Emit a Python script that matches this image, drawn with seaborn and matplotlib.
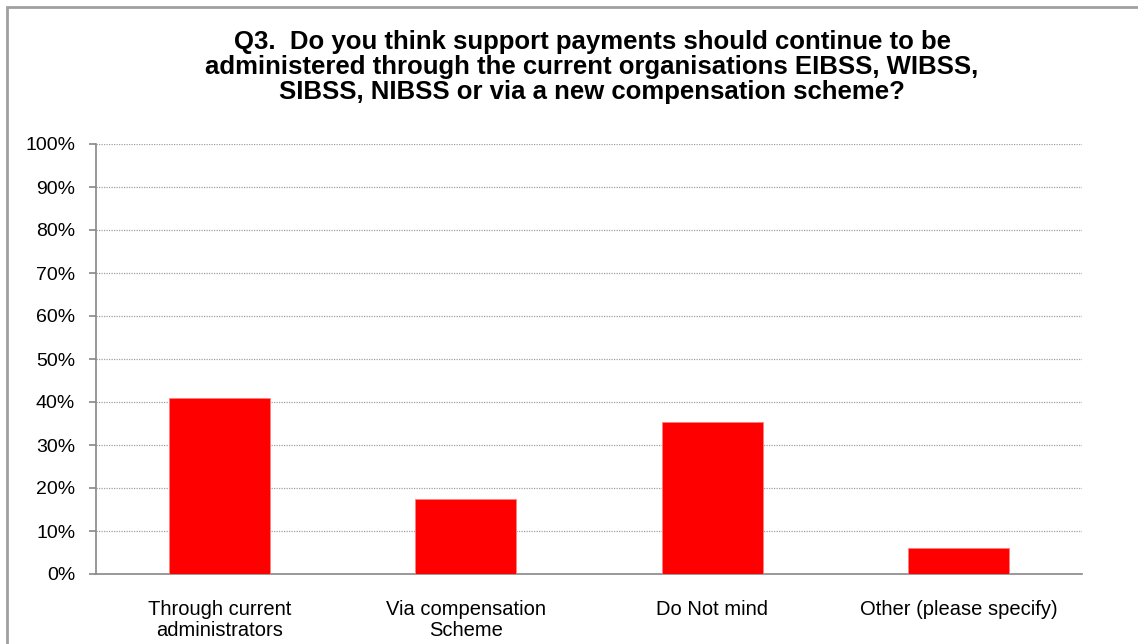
import matplotlib
matplotlib.use("Agg")
import matplotlib.pyplot as plt
import matplotlib.patches as mpatches
from matplotlib.ticker import PercentFormatter, FixedLocator
import seaborn as sns
import pandas as pd

categories = ["Through current\nadministrators", "Via compensation\nScheme",
              "Do Not mind", "Other (please specify)"]
shares = [41.0, 17.4, 35.4, 6.1]
title_text = ("Q3.  Do you think support payments should continue to be\n"
              "administered through the current organisations EIBSS, WIBSS,\n"
              "SIBSS, NIBSS or via a new compensation scheme?")

sns.set_theme(style="white")
plt.rcParams["font.family"] = ["Liberation Sans", "DejaVu Sans"]
plt.rcParams["text.color"] = "#000000"

df = pd.DataFrame({"category": categories, "share": shares})

W, H = 1138, 644
fig = plt.figure(figsize=(W / 100, H / 100), dpi=100)
ax = fig.add_axes([96 / W, 1 - 574 / H, (1082 - 96) / W, (574 - 144) / H])

sns.barplot(data=df, x="category", y="share", color="#FF0000", width=0.41,
            saturation=1, ax=ax, zorder=3)
for p in ax.patches:
    p.set_edgecolor("#FF8080")
    p.set_linewidth(0.6)

ax.set_ylim(0, 100)
ax.set_xlim(-0.5, len(categories) - 0.5)
ax.yaxis.set_major_locator(FixedLocator(range(0, 101, 10)))
ax.yaxis.set_major_formatter(PercentFormatter(decimals=0))
ax.grid(axis="y", color="#A0A0A0", linestyle=(0, (1, 1)), linewidth=0.9, zorder=0)
ax.grid(axis="x", visible=False)

# category separators as outward ticks at the boundaries
ax.set_xticks([i - 0.5 for i in range(len(categories) + 1)], minor=True)
ax.tick_params(axis="x", which="major", length=0, labelsize=14.5, pad=19,
               labelcolor="#000000")
ax.tick_params(axis="x", which="minor", length=5, width=1.2, color="#888888", direction="out")
ax.tick_params(axis="y", length=5, width=1.2, color="#888888", direction="out",
               labelsize=14, pad=10, left=True, labelcolor="#000000")
for lbl in ax.get_xticklabels():
    lbl.set_linespacing(1.1)

for side in ("top", "right"):
    ax.spines[side].set_visible(False)
for side in ("left", "bottom"):
    ax.spines[side].set_color("#888888")
    ax.spines[side].set_linewidth(1.2)
ax.set_xlabel("")
ax.set_ylabel("")

fig.text(592 / W, 1 - 67 / H, title_text, ha="center", va="center",
         fontsize=18.5, fontweight="bold", linespacing=1.06, color="#000000")

# chart-area frame
fig.patches.append(mpatches.Rectangle((6.5 / W, -0.01), 1.02, 1 - 6.5 / H + 0.01,
                                      transform=fig.transFigure, fill=False,
                                      edgecolor="#A0A0A0", linewidth=2))

fig.savefig("out.png", dpi=100, facecolor="white")
